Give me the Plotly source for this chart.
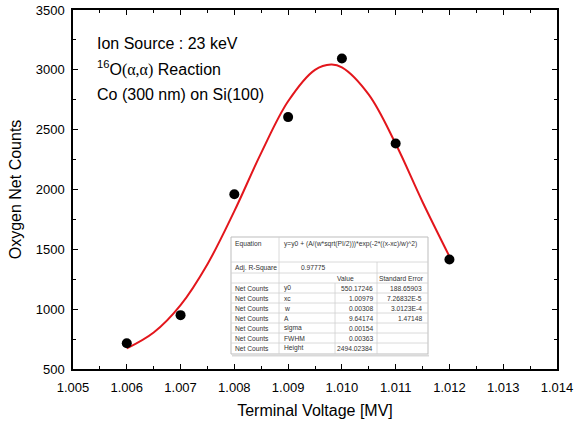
import plotly.graph_objects as go

# ---- data ----
voltage = [1.006, 1.007, 1.008, 1.009, 1.010, 1.011, 1.012]
net_counts = [715, 950, 1960, 2605, 3095, 2385, 1415]

fit_x = [1.0060, 1.0065, 1.0070, 1.0075, 1.0080, 1.0085, 1.0090, 1.0095,
         1.0098, 1.0100, 1.0105, 1.0110, 1.0115, 1.0120]
fit_y = [672, 805, 1034, 1376, 1819, 2306, 2737, 3000,
         3044, 3021, 2793, 2382, 1896, 1441]

x_ticks = [1.005, 1.006, 1.007, 1.008, 1.009, 1.010, 1.011, 1.012, 1.013, 1.014]
y_ticks = [500, 1000, 1500, 2000, 2500, 3000, 3500]

info_lines = ["Ion Source : 23 keV",
              "<sup>16</sup>O<span style='font-family:Liberation Serif'>(α,α)</span> Reaction",
              "Co (300 nm) on Si(100)"]

equation = "y=y0 + (A/(w*sqrt(PI/2)))*exp(-2*((x-xc)/w)^2)"
adj_r2 = "0.97775"
row_dataset = ["Net Counts"] * 7
row_params = ["y0", "xc", "w", "A", "sigma", "FWHM", "Height"]
row_values = ["550.17246", "1.00979", "0.00308", "9.64174", "0.00154", "0.00363", "2494.02384"]
row_errors = ["188.65903", "7.26832E-5", "3.0123E-4", "1.47148", "", "", ""]

# ---- layout geometry (page pixels) ----
W, H = 574, 427
P_LEFT, P_RIGHT, P_TOP, P_BOTTOM = 73, 557, 10, 369   # plot area
ML, MT, MR, MB = P_LEFT, P_TOP, W - P_RIGHT, H - P_BOTTOM
PW, PH = P_RIGHT - P_LEFT, P_BOTTOM - P_TOP


def px(x):
    return (x - P_LEFT) / PW


def py(y):
    return (P_BOTTOM - y) / PH


fig = go.Figure()
fig.add_trace(go.Scatter(x=fit_x, y=fit_y, mode="lines", line_shape="spline",
                         line=dict(color="#e3161c", width=2), hoverinfo="skip",
                         showlegend=False))
fig.add_trace(go.Scatter(x=voltage, y=net_counts, mode="markers",
                         marker=dict(color="black", size=10), showlegend=False))

FONT = "Liberation Sans, Arial, sans-serif"
annotations = []
for i, t in enumerate(info_lines):
    annotations.append(dict(text=t, x=px(95), y=py(43 + 26 * i), xref="paper", yref="paper",
                            xanchor="left", yanchor="middle", showarrow=False,
                            font=dict(family=FONT, size=16, color="black")))

# ---- fit-results table ----
TL, TR, TT, TB = 231, 428, 237, 354
C1, C2, C3 = 279, 335, 377
R_EQ, R_ADJ, R_HDR = 262, 273, 283
ROW_H = 10
shapes = []
shapes.append(dict(type="rect", xref="paper", yref="paper", x0=px(TL), x1=px(TR), y0=py(TB), y1=py(TT),
                   fillcolor="white", line=dict(color="#bdbdbd", width=1), layer="above"))
shapes.append(dict(type="line", xref="paper", yref="paper", x0=px(TL + 1), x1=px(TR + 1),
                   y0=py(TB + 1.5), y1=py(TB + 1.5), line=dict(color="#d9d9d9", width=2), layer="above"))
grid = dict(color="#d0d0d0", width=0.8)
hlines = [R_EQ, R_ADJ, R_HDR] + [R_HDR + ROW_H * k for k in range(1, 7)]
for yy in hlines:
    shapes.append(dict(type="line", xref="paper", yref="paper", x0=px(TL), x1=px(TR),
                       y0=py(yy), y1=py(yy), line=grid, layer="above"))
shapes.append(dict(type="line", xref="paper", yref="paper", x0=px(C1), x1=px(C1),
                   y0=py(TB), y1=py(TT), line=grid, layer="above"))
shapes.append(dict(type="line", xref="paper", yref="paper", x0=px(C2), x1=px(C2),
                   y0=py(TB), y1=py(R_HDR), line=grid, layer="above"))
shapes.append(dict(type="line", xref="paper", yref="paper", x0=px(C3), x1=px(C3),
                   y0=py(TB), y1=py(R_EQ), line=grid, layer="above"))

TF = dict(family=FONT, size=6.7, color="#333333")


def cell(text, x, y, xanchor="left", yanchor="middle"):
    annotations.append(dict(text=text, x=px(x), y=py(y), xref="paper", yref="paper",
                            xanchor=xanchor, yanchor=yanchor, showarrow=False, font=TF))


cell("Equation", 233, 238, yanchor="top")
cell(equation, 282, 238, yanchor="top")
cell("Adj. R-Square", 233, (R_EQ + R_ADJ) / 2)
cell(adj_r2, 313, (R_EQ + R_ADJ) / 2, xanchor="center")
cell("Value", 345, (R_ADJ + R_HDR) / 2, xanchor="center")
cell("Standard Error", 401, (R_ADJ + R_HDR) / 2, xanchor="center")
for k in range(7):
    yc = R_HDR + ROW_H * k + ROW_H / 2
    cell(row_dataset[k], 233, yc)
    cell(row_params[k], 282, yc)
    cell(row_values[k], 375, yc, xanchor="right")
    if row_errors[k]:
        cell(row_errors[k], 424, yc, xanchor="right")

axis_common = dict(showline=True, linecolor="black", linewidth=1.5, mirror="allticks",
                   ticks="inside", ticklen=5, tickwidth=1.3, tickcolor="black",
                   showgrid=False, zeroline=False, automargin=False,
                   ticklabeloverflow="allow",
                   tickfont=dict(family=FONT, size=13, color="black"))

fig.update_layout(
    width=W, height=H,
    margin=dict(l=ML, r=MR, t=MT, b=MB),
    paper_bgcolor="white", plot_bgcolor="white",
    font=dict(family=FONT, color="black"),
    xaxis=dict(range=[1.005, 1.014], tickvals=x_ticks, tickformat=".3f", ticklabelstandoff=6,
               minor=dict(dtick=0.0005, ticks="inside", ticklen=3, tickcolor="black", tickwidth=1.2),
               title=dict(text="Terminal Voltage [MV]", font=dict(family=FONT, size=16), standoff=10),
               **axis_common),
    yaxis=dict(range=[500, 3500], tickvals=y_ticks, ticklabelstandoff=4,
               minor=dict(dtick=250, ticks="inside", ticklen=3, tickcolor="black", tickwidth=1.2),
               title=dict(text="Oxygen Net Counts", font=dict(family=FONT, size=16), standoff=10),
               **axis_common),
    shapes=shapes,
    annotations=annotations,
)

fig.write_html("out.html", config={"displayModeBar": False},
               post_script="document.body.style.margin='0';document.body.style.overflow='hidden';")
